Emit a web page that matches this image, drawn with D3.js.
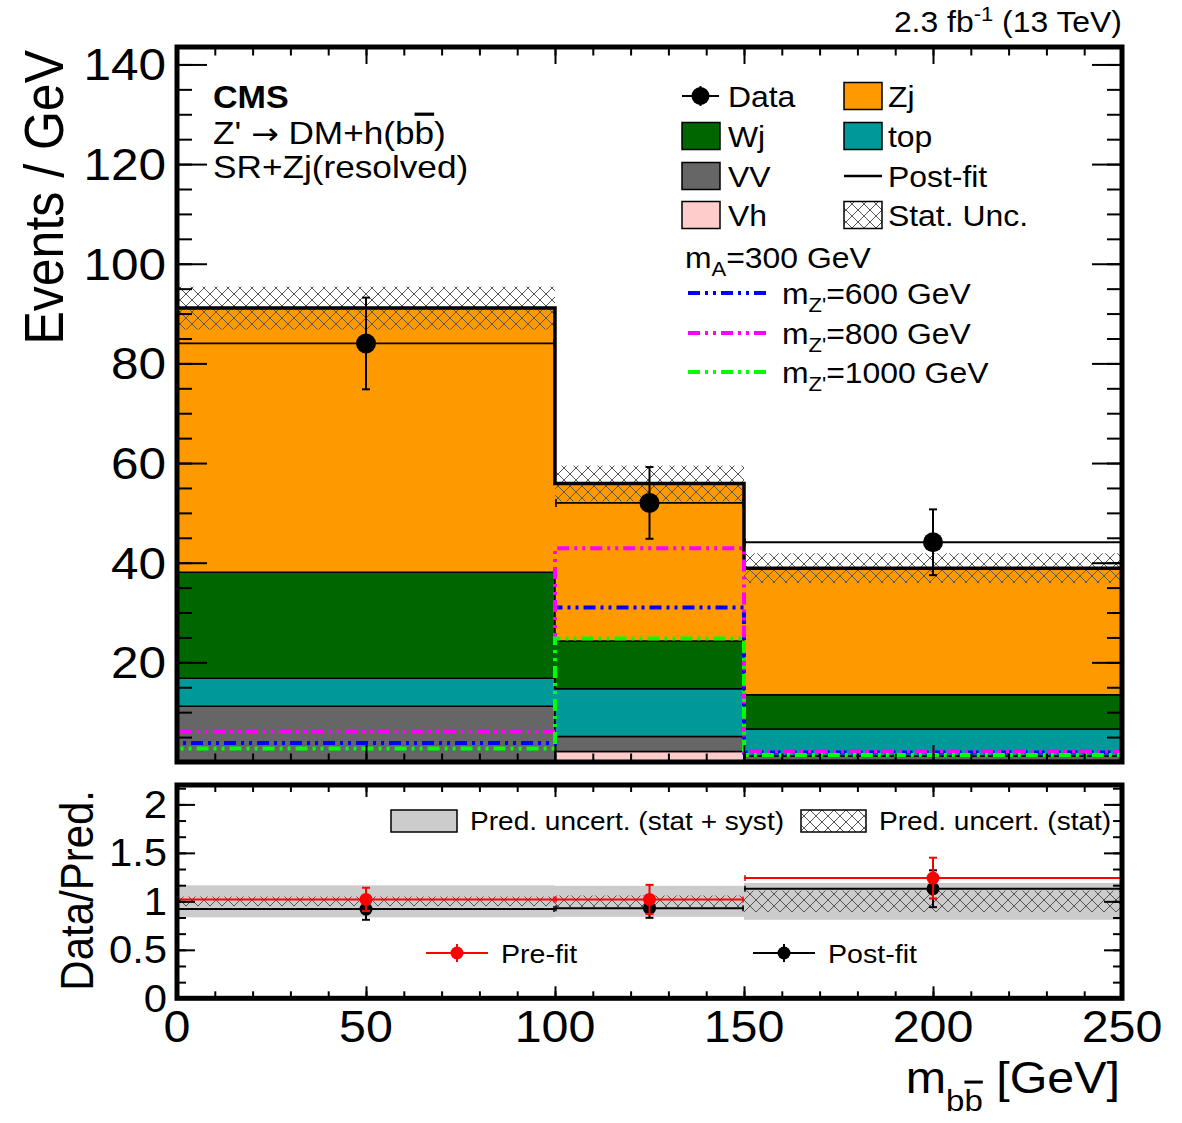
<!DOCTYPE html>
<html>
<head>
<meta charset="utf-8">
<script src="https://cdn.jsdelivr.net/npm/d3@7"></script>
<style>
  body { margin: 0; background: #fff; }
  svg { display: block; font-family: "Liberation Sans", Arial, sans-serif; }
</style>
</head>
<body>
<div id="chart"></div>
<script>
// ---- data ----
const binEdges = [0, 100, 150, 250];
const processes = ["Vh", "VV", "top", "Wj", "Zj"];
const vhVals = [0.2, 2.1, 0.3];
const vvVals = [11.0, 3.0, 0.9];
const topVals = [5.6, 9.6, 5.4];
const wjVals = [21.3, 9.6, 6.9];
const zjVals = [53.0, 31.6, 25.4];
const statUnc = [4.3, 3.6, 3.0];

const dataX = [50, 125, 200];
const dataVals = [84.0, 52.0, 44.1];
const dataErr = [9.2, 7.2, 6.6];

const sig600 = [3.8, 31.0, 1.9];
const sig800 = [6.0, 42.9, 2.1];
const sig1000 = [2.7, 24.8, 1.4];

const preFit = [1.02, 1.02, 1.24];
const preFitErr = [0.12, 0.15, 0.21];
const postFit = [0.92, 0.93, 1.13];
const postFitErr = [0.11, 0.10, 0.19];
const bandSyst = [0.165, 0.16, 0.19];
const bandStat = [0.05, 0.06, 0.11];

const xTicks = [0, 50, 100, 150, 200, 250];
const yTicks = [20, 40, 60, 80, 100, 120, 140];
const rTicks = [0, 0.5, 1, 1.5, 2];

const colors = { Vh: "#ffcccc", VV: "#666666", top: "#009999", Wj: "#006600", Zj: "#ff9900" };
const sigColors = ["#0000ff", "#ff00ff", "#00ff00"];

const width = 1182, height = 1123;
const svg = d3.select("#chart").append("svg")
  .attr("width", width).attr("height", height)
  .attr("viewBox", [0, 0, width, height]);

const defs = svg.append("defs");
const hatch = defs.append("pattern")
  .attr("id", "hatch").attr("patternUnits", "userSpaceOnUse")
  .attr("width", 12).attr("height", 12);
hatch.append("path")
  .attr("d", "M0,0 L12,12 M12,0 L0,12")
  .attr("stroke", "#555").attr("stroke-width", 1).attr("fill", "none");

// scales
const x = d3.scaleLinear().domain([0, 250]).range([177, 1122]);
const y = d3.scaleLinear().domain([0, 143.5]).range([762, 47]);
const r = d3.scaleLinear().domain([0, 2.2]).range([998.3, 785]);

const SX = 1.1; // the picture's text is a bit wider than Liberation Sans
function label(px, py, str, size, anchor = "start", weight = "normal") {
  return svg.append("text")
    .attr("transform", `translate(${px},${py}) scale(${SX},1)`)
    .attr("text-anchor", anchor)
    .attr("font-size", size)
    .attr("font-weight", weight)
    .attr("fill", "#000")
    .text(str);
}

// ---- main panel: stacked backgrounds ----
const rows = binEdges.slice(0, -1).map((e, i) => ({
  lo: e, hi: binEdges[i + 1],
  Vh: vhVals[i], VV: vvVals[i], top: topVals[i], Wj: wjVals[i], Zj: zjVals[i]
}));
const stacked = d3.stack().keys(processes)(rows);

// repeat last bin at the right edge so the step curve closes the histogram
function stepPoints(arr, f) {
  const pts = arr.map((d, i) => ({ xv: binEdges[i], ...f(d, i) }));
  pts.push({ xv: binEdges[binEdges.length - 1], ...f(arr[arr.length - 1], arr.length - 1) });
  return pts;
}

const area = d3.area()
  .curve(d3.curveStepAfter)
  .x((d) => x(d.xv))
  .y0((d) => y(d.lo))
  .y1((d) => y(d.hiV));

const gStack = svg.append("g").attr("class", "stack");
stacked.forEach((layer) => {
  gStack.append("path")
    .datum(stepPoints(layer, (d) => ({ lo: d[0], hiV: d[1] })))
    .attr("d", area)
    .attr("fill", colors[layer.key])
    .attr("stroke", "#000")
    .attr("stroke-width", 1.5);
});

const totals = rows.map((d) => processes.reduce((s, k) => s + d[k], 0));

// stat. uncertainty hatch
svg.append("g").selectAll("rect")
  .data(totals)
  .join("rect")
  .attr("x", (d, i) => x(binEdges[i]))
  .attr("width", (d, i) => x(binEdges[i + 1]) - x(binEdges[i]))
  .attr("y", (d, i) => y(d + statUnc[i]))
  .attr("height", (d, i) => y(d - statUnc[i]) - y(d + statUnc[i]))
  .attr("fill", "url(#hatch)");

// total outline (thick)
const stepLine = d3.line().curve(d3.curveStepAfter).x((d) => x(d[0])).y((d) => y(d[1]));
function histPoints(vals) {
  const pts = [[binEdges[0], 0]];
  vals.forEach((v, i) => pts.push([binEdges[i], v]));
  pts.push([binEdges[binEdges.length - 1], vals[vals.length - 1]]);
  pts.push([binEdges[binEdges.length - 1], 0]);
  return pts;
}
svg.append("path")
  .datum(histPoints(totals))
  .attr("d", stepLine)
  .attr("fill", "none")
  .attr("stroke", "#000")
  .attr("stroke-width", 3.5);

// signals
[sig600, sig800, sig1000].forEach((s, k) => {
  svg.append("path")
    .datum(histPoints(s))
    .attr("d", stepLine)
    .attr("fill", "none")
    .attr("stroke", sigColors[k])
    .attr("stroke-width", 4)
    .attr("stroke-dasharray", "12,5,3,5,3,5");
});

// data points with bin-width lines
const gData = svg.append("g");
dataVals.forEach((v, i) => {
  const x0 = x(binEdges[i]), x1 = x(binEdges[i + 1]), cx = x(dataX[i]);
  gData.append("line").attr("x1", x0).attr("x2", x1).attr("y1", y(v)).attr("y2", y(v))
    .attr("stroke", "#000").attr("stroke-width", 1.8);
  [x0 + 1, x1 - 1].forEach((xe) => gData.append("line")
    .attr("x1", xe).attr("x2", xe).attr("y1", y(v) - 4).attr("y2", y(v) + 4)
    .attr("stroke", "#000").attr("stroke-width", 1.5));
  gData.append("line").attr("x1", cx).attr("x2", cx)
    .attr("y1", y(v + dataErr[i])).attr("y2", y(v - dataErr[i]))
    .attr("stroke", "#000").attr("stroke-width", 2);
  [v + dataErr[i], v - dataErr[i]].forEach((e) => gData.append("line")
    .attr("x1", cx - 4).attr("x2", cx + 4).attr("y1", y(e)).attr("y2", y(e))
    .attr("stroke", "#000").attr("stroke-width", 2));
  gData.append("circle").attr("cx", cx).attr("cy", y(v)).attr("r", 10).attr("fill", "#000");
});

// ---- frames and ticks ----
function ticksOn(sel, axis) {
  sel.call(axis);
  sel.select(".domain").remove();
  sel.selectAll("line").attr("stroke", "#000").attr("stroke-width", 2);
  sel.selectAll("text").remove();
}
const mainTop = 47, mainBot = 762, left = 177, right = 1122;
const d10 = d3.range(0, 251, 10);
const yMinor = d3.range(0, 144, 5);

svg.append("g").attr("transform", `translate(0,${mainBot})`).call((g) => ticksOn(g, d3.axisBottom(x).tickValues(d10).tickSize(-8.5)));
svg.append("g").attr("transform", `translate(0,${mainBot})`).call((g) => ticksOn(g, d3.axisBottom(x).tickValues(xTicks).tickSize(-17)));
svg.append("g").attr("transform", `translate(0,${mainTop})`).call((g) => ticksOn(g, d3.axisTop(x).tickValues(d10).tickSize(-8.5)));
svg.append("g").attr("transform", `translate(0,${mainTop})`).call((g) => ticksOn(g, d3.axisTop(x).tickValues(xTicks).tickSize(-17)));
svg.append("g").attr("transform", `translate(${left},0)`).call((g) => ticksOn(g, d3.axisLeft(y).tickValues(yMinor).tickSize(-15)));
svg.append("g").attr("transform", `translate(${left},0)`).call((g) => ticksOn(g, d3.axisLeft(y).tickValues(yTicks).tickSize(-30)));
svg.append("g").attr("transform", `translate(${right},0)`).call((g) => ticksOn(g, d3.axisRight(y).tickValues(yMinor).tickSize(-15)));
svg.append("g").attr("transform", `translate(${right},0)`).call((g) => ticksOn(g, d3.axisRight(y).tickValues(yTicks).tickSize(-30)));

svg.append("rect").attr("x", left).attr("y", mainTop)
  .attr("width", right - left).attr("height", mainBot - mainTop)
  .attr("fill", "none").attr("stroke", "#000").attr("stroke-width", 5);

yTicks.forEach((v) => label(166, y(v) + 16, v, 45, "end"));

// ---- ratio panel ----
const gR = svg.append("g");
bandSyst.forEach((b, i) => {
  gR.append("rect").attr("x", x(binEdges[i])).attr("width", x(binEdges[i + 1]) - x(binEdges[i]))
    .attr("y", r(1 + b)).attr("height", r(1 - b) - r(1 + b)).attr("fill", "#cccccc");
});
bandStat.forEach((b, i) => {
  gR.append("rect").attr("x", x(binEdges[i])).attr("width", x(binEdges[i + 1]) - x(binEdges[i]))
    .attr("y", r(1 + b)).attr("height", r(1 - b) - r(1 + b)).attr("fill", "url(#hatch)");
});

function ratioSeries(vals, errs, color) {
  vals.forEach((v, i) => {
    const x0 = x(binEdges[i]), x1 = x(binEdges[i + 1]), cx = x(dataX[i]);
    gR.append("line").attr("x1", x0).attr("x2", x1).attr("y1", r(v)).attr("y2", r(v))
      .attr("stroke", color).attr("stroke-width", 2);
    [x0 + 1, x1 - 1].forEach((xe) => gR.append("line")
      .attr("x1", xe).attr("x2", xe).attr("y1", r(v) - 3).attr("y2", r(v) + 3)
      .attr("stroke", color).attr("stroke-width", 1.5));
    gR.append("line").attr("x1", cx).attr("x2", cx)
      .attr("y1", r(v + errs[i])).attr("y2", r(v - errs[i]))
      .attr("stroke", color).attr("stroke-width", 2);
    [v + errs[i], v - errs[i]].forEach((e) => gR.append("line")
      .attr("x1", cx - 4).attr("x2", cx + 4).attr("y1", r(e)).attr("y2", r(e))
      .attr("stroke", color).attr("stroke-width", 2));
    gR.append("circle").attr("cx", cx).attr("cy", r(v)).attr("r", 6.5).attr("fill", color);
  });
}
ratioSeries(postFit, postFitErr, "#000");
ratioSeries(preFit, preFitErr, "#ff0000");

const rTop = 785, rBot = 998.3;
const rMinor = d3.range(0, 2.21, 0.5 / 3);
svg.append("g").attr("transform", `translate(0,${rBot})`).call((g) => ticksOn(g, d3.axisBottom(x).tickValues(d10).tickSize(-7)));
svg.append("g").attr("transform", `translate(0,${rBot})`).call((g) => ticksOn(g, d3.axisBottom(x).tickValues(xTicks).tickSize(-12)));
svg.append("g").attr("transform", `translate(0,${rTop})`).call((g) => ticksOn(g, d3.axisTop(x).tickValues(d10).tickSize(-7)));
svg.append("g").attr("transform", `translate(0,${rTop})`).call((g) => ticksOn(g, d3.axisTop(x).tickValues(xTicks).tickSize(-12)));
svg.append("g").attr("transform", `translate(${left},0)`).call((g) => ticksOn(g, d3.axisLeft(r).tickValues(rMinor).tickSize(-9)));
svg.append("g").attr("transform", `translate(${left},0)`).call((g) => ticksOn(g, d3.axisLeft(r).tickValues(rTicks).tickSize(-18)));
svg.append("g").attr("transform", `translate(${right},0)`).call((g) => ticksOn(g, d3.axisRight(r).tickValues(rMinor).tickSize(-9)));
svg.append("g").attr("transform", `translate(${right},0)`).call((g) => ticksOn(g, d3.axisRight(r).tickValues(rTicks).tickSize(-18)));

svg.append("rect").attr("x", left).attr("y", rTop)
  .attr("width", right - left).attr("height", rBot - rTop)
  .attr("fill", "none").attr("stroke", "#000").attr("stroke-width", 5);

rTicks.forEach((v) => label(167, r(v) + 13.5, v, 38, "end"));
xTicks.forEach((v) => label(x(v), 1042, v, 44, "middle"));

// ratio legends
svg.append("rect").attr("x", 391).attr("y", 810).attr("width", 66).attr("height", 22)
  .attr("fill", "#cccccc").attr("stroke", "#000").attr("stroke-width", 1.5);
label(470, 830, "Pred. uncert. (stat + syst)", 25.5);
svg.append("rect").attr("x", 801).attr("y", 810).attr("width", 65).attr("height", 22)
  .attr("fill", "url(#hatch)").attr("stroke", "#000").attr("stroke-width", 1.5);
label(879, 830, "Pred. uncert. (stat)", 25.5);

function markerKey(x0, x1, cy, rad, color, errLen) {
  svg.append("line").attr("x1", x0).attr("x2", x1).attr("y1", cy).attr("y2", cy)
    .attr("stroke", color).attr("stroke-width", 2);
  const cx = (x0 + x1) / 2;
  svg.append("line").attr("x1", cx).attr("x2", cx).attr("y1", cy - errLen).attr("y2", cy + errLen)
    .attr("stroke", color).attr("stroke-width", 2);
  svg.append("circle").attr("cx", cx).attr("cy", cy).attr("r", rad).attr("fill", color);
}
markerKey(426, 488, 953, 6.5, "#ff0000", 9);
label(501, 962.5, "Pre-fit", 26);
markerKey(753, 815, 953, 6.5, "#000", 9);
label(828, 962.5, "Post-fit", 26);

// ---- main legend ----
const legRows = [96, 136, 176, 215];
function boxKey(bx, cy, fill) {
  svg.append("rect").attr("x", bx).attr("y", cy - 13.5).attr("width", 38).attr("height", 27)
    .attr("fill", fill).attr("stroke", "#000").attr("stroke-width", 1.5);
}
markerKey(682, 719, legRows[0], 9, "#000", 10);
label(728, legRows[0] + 10.5, "Data", 29);
boxKey(844, legRows[0], colors.Zj);
label(888, legRows[0] + 10.5, "Zj", 29);
boxKey(682, legRows[1], colors.Wj);
label(728, legRows[1] + 10.5, "Wj", 29);
boxKey(844, legRows[1], colors.top);
label(888, legRows[1] + 10.5, "top", 29);
boxKey(682, legRows[2], colors.VV);
label(728, legRows[2] + 10.5, "VV", 29);
svg.append("line").attr("x1", 844).attr("x2", 882).attr("y1", legRows[2]).attr("y2", legRows[2])
  .attr("stroke", "#000").attr("stroke-width", 2.5);
label(888, legRows[2] + 10.5, "Post-fit", 29);
boxKey(682, legRows[3], colors.Vh);
label(728, legRows[3] + 10.5, "Vh", 29);
boxKey(844, legRows[3], "url(#hatch)");
label(888, legRows[3] + 10.5, "Stat. Unc.", 29);

const mA = label(685, 268, "m", 29);
mA.append("tspan").attr("dy", 8).attr("font-size", 20).text("A");
mA.append("tspan").attr("dy", -8).text("=300 GeV");

const sigNames = ["600", "800", "1000"];
[293, 333, 372].forEach((cy, k) => {
  svg.append("line").attr("x1", 688).attr("x2", 767).attr("y1", cy).attr("y2", cy)
    .attr("stroke", sigColors[k]).attr("stroke-width", 4)
    .attr("stroke-dasharray", "12,5,3,5,3,5");
  const t = label(782, cy + 10.5, "m", 29);
  t.append("tspan").attr("dy", 8).attr("font-size", 20).text("Z'");
  t.append("tspan").attr("dy", -8).text(`=${sigNames[k]} GeV`);
});

// ---- texts ----
label(213, 108, "CMS", 31, "start", "bold");
const zt = label(213, 144, "Z' ", 32);
zt.append("tspan").attr("font-family", "DejaVu Sans").attr("font-size", 30).text("\u2192");
zt.append("tspan").text(" DM+h(b");
zt.append("tspan").style("text-decoration", "overline").text("b");
zt.append("tspan").text(")");
label(213, 178, "SR+Zj(resolved)", 32);

const lumi = label(1122, 32, "2.3 fb", 29, "end");
lumi.append("tspan").attr("dy", -11).attr("font-size", 20).text("-1");
lumi.append("tspan").attr("dy", 11).text(" (13 TeV)");

svg.append("text")
  .attr("transform", `translate(63,50) scale(${SX},1) rotate(-90)`)
  .attr("text-anchor", "end").attr("font-size", 50).text("Events / GeV");
svg.append("text")
  .attr("transform", `translate(93,790) scale(${SX},1) rotate(-90)`)
  .attr("text-anchor", "end").attr("font-size", 42).text("Data/Pred.");

const xt = label(1120, 1093, "m", 44, "end");
xt.append("tspan").attr("dy", 18).attr("font-size", 30).text("b");
xt.append("tspan").attr("font-size", 30).style("text-decoration", "overline").text("b");
xt.append("tspan").attr("dy", -18).text(" [GeV]");
</script>
</body>
</html>
